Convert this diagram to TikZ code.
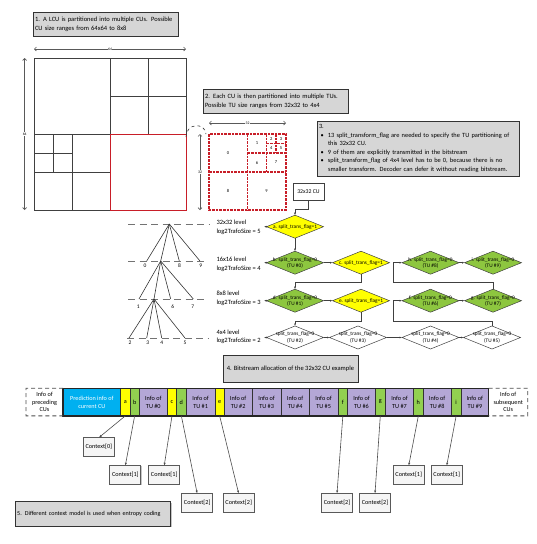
\documentclass[tikz,border=0pt]{standalone}
\usepackage{fontspec}
\setmainfont{Carlito}
\usetikzlibrary{arrows.meta,shapes.geometric,calc,shadows}
\definecolor{cured}{RGB}{200,30,40}
\definecolor{boxgray}{RGB}{214,214,214}
\definecolor{bgreen}{RGB}{146,208,80}
\definecolor{fgreen}{RGB}{141,198,63}
\definecolor{fyellow}{RGB}{255,255,0}
\definecolor{tucyan}{RGB}{0,176,240}
\definecolor{tupurple}{RGB}{180,167,214}
\newcommand\tbul{\makebox[9pt][l]{\hspace{1.5pt}\textbullet}}
\newcommand\tind{\hspace*{9pt}}
\newcommand\flagdia[4]{\node[dia,fill=#2] (#1) at (#3) {}; \node[ftext] at (#1) {#4};}
\begin{document}
\begin{tikzpicture}[x=1pt,y=-1pt,
  every node/.style={font=\fontsize{6.5}{9}\selectfont, inner sep=1pt, outer sep=0pt},
  graybox/.style={draw=black!80, line width=0.8pt, fill=boxgray, align=left, anchor=north west, inner sep=2pt,
    drop shadow={shadow xshift=0.8pt, shadow yshift=-0.8pt, fill=black!45}},
  sq/.style={draw=black!75, line width=1pt},
  redsq/.style={draw=cured, line width=1pt},
  tusq/.style={draw=cured, line width=1.2pt, dash pattern=on 2.6pt off 1pt},
  dim/.style={{Straight Barb[length=2pt,width=4pt]}-{Straight Barb[length=2pt,width=4pt]}, draw=black!65, line width=0.7pt},
  dlab/.style={font=\fontsize{3.8}{4}\selectfont, fill=white, inner sep=0.5pt},
  tulab/.style={font=\fontsize{4.5}{5}\selectfont, inner sep=0pt},
  dia/.style={diamond, draw=black!75, line width=0.5pt, minimum width=57pt, minimum height=23pt, inner sep=0pt},
  ftext/.style={font=\fontsize{5.3}{6.2}\selectfont, align=center, inner sep=0pt},
  arr/.style={-{Latex[length=2.5pt,width=2pt]}, draw=black!75, line width=0.5pt},
  carr/.style={-{Latex[length=3pt,width=2.2pt]}, draw=black!70, line width=0.6pt},
  tline/.style={draw=black!80, line width=0.6pt},
  lvldash/.style={draw=black!55, line width=1pt, dash pattern=on 7pt off 4.5pt},
  lvl/.style={anchor=west, align=left, font=\fontsize{6.5}{8.7}\selectfont},
  tlab/.style={font=\fontsize{5.5}{6}\selectfont, inner sep=0pt},
  cell/.style={draw=black!80, line width=0.5pt, minimum height=27.7pt, inner sep=0.5pt, align=center, anchor=west, font=\fontsize{6.2}{7.8}\selectfont},
  ctx/.style={draw=black!65, line width=0.7pt, fill=black!4, minimum width=31pt, minimum height=18.5pt, inner sep=0.5pt,
    font=\fontsize{6.2}{7}\selectfont, drop shadow={shadow xshift=0.7pt,shadow yshift=-0.7pt,fill=black!45}},
  pdash/.style={draw=black!70, line width=0.8pt, dash pattern=on 4pt off 3pt}
]
\useasboundingbox (0,0) rectangle (537,544);

% ---------- Box 1 and LCU ----------
\node[graybox, text width=141pt, minimum height=24pt] (b1) at (33,12)
  {1. A LCU is partitioned into multiple CUs. Possible\\CU size ranges from 64x64 to 8x8};

\draw[dim] (34,49) -- (186,49);
\node[dlab] (l64h) at (110,49) {64};
\draw[dim] (24.7,58) -- (24.7,210);
\node[dlab] (l64v) at (24.7,134) {64};

\draw[sq] (34,58) rectangle (186,210);
\draw[sq] (110,58) -- (110,210);
\draw[sq] (34,134) -- (186,134);
\draw[sq] (148,58) -- (148,134);
\draw[sq] (110,96) -- (186,96);
\draw[sq] (72,134) -- (72,210);
\draw[sq] (34,172) -- (110,172);
\draw[sq] (53,134) -- (53,172);
\draw[sq] (34,153) -- (72,153);
\draw[redsq] (110,134) rectangle (186,210);

\draw[dashed, draw=black!80, line width=0.6pt] (186,137) .. controls (186,123) and (205,122) .. (206,134);

% ---------- Box 2 and TU split ----------
\node[graybox, text width=141pt, minimum height=24pt] (b2) at (203,89)
  {2. Each CU is then partitioned into multiple TUs.\\Possible TU size ranges from 32x32 to 4x4};

\draw[dim] (209,123) -- (286,123);
\node[dlab] (l32h) at (247.5,123) {32};
\draw[dim] (200,134) -- (200,210);
\node[dlab] (l32v) at (200,172) {32};

\draw[tusq] (209,134) rectangle (286,210);
\draw[tusq] (247.5,134) -- (247.5,210);
\draw[tusq] (209,172) -- (286,172);
\draw[tusq] (247.5,153) -- (286,153);
\draw[tusq] (266.5,134) -- (266.5,172);
\draw[tusq] (266.5,143.5) -- (286,143.5);
\draw[tusq] (276,134) -- (276,153);
\node[tulab] at (228,153) {0};
\node[tulab] at (257,143.5) {1};
\node[tulab] at (271.2,139) {2};
\node[tulab] at (281,139) {3};
\node[tulab] at (271.2,148.3) {4};
\node[tulab] at (281,148.3) {5};
\node[tulab] at (257,162.5) {6};
\node[tulab] at (276,162.5) {7};
\node[tulab] at (228,191) {8};
\node[tulab] at (266.5,191) {9};

% ---------- Box 3 ----------
\node[graybox, text width=198pt, minimum height=55pt, font=\fontsize{6.4}{8.5}\selectfont] (b3) at (317,121)
  {3.\\
  \tbul 13 split\_transform\_flag are needed to specify the TU partitioning of\\
  \tind this 32x32 CU.\\
  \tbul 9 of them are explicitly transmitted in the bitstream\\
  \tbul split\_transform\_flag of 4x4 level has to be 0, because there is no\\
  \tind smaller transform. Decoder can defer it without reading bitstream.};

% ---------- Tree ----------
\draw[lvldash] (128,224) -- (210,224);
\draw[lvldash] (128,261) -- (208,261);
\draw[lvldash] (128,299) -- (208,299);
\draw[lvldash] (127,338) -- (208,338);

\coordinate (t0) at (169.3,224);
\coordinate (n0) at (146.7,261);
\coordinate (n1) at (160.7,261);
\coordinate (n8) at (179.3,261);
\coordinate (n9) at (200,261);
\coordinate (m1) at (139,299);
\coordinate (m2) at (154,299);
\coordinate (m6) at (170.7,299);
\coordinate (m7) at (193.3,299);
\coordinate (k2) at (129,338);
\coordinate (k3) at (146.7,338);
\coordinate (k4) at (161.7,338);
\coordinate (k5) at (185,338);
\foreach \c in {n0,n1,n8,n9} \draw[tline] (t0) -- (\c);
\foreach \c in {m1,m2,m6,m7} \draw[tline] (n1) -- (\c);
\foreach \c in {k2,k3,k4,k5} \draw[tline] (m2) -- (\c);
\node[tlab] at (145,265.5) {0};
\node[tlab] at (179.5,265.5) {8};
\node[tlab] at (200.7,265.5) {9};
\node[tlab] at (138.3,307) {1};
\node[tlab] at (172.7,307) {6};
\node[tlab] at (192.7,307) {7};
\node[tlab] at (130,342.7) {2};
\node[tlab] at (147.7,342.7) {3};
\node[tlab] at (161.7,342.7) {4};
\node[tlab] at (185,342.7) {5};

\node[lvl] (lv5) at (215.5,227) {32x32 level\\log2TrafoSize = 5};
\node[lvl] (lv4) at (215.5,264.5) {16x16 level\\log2TrafoSize = 4};
\node[lvl] (lv3) at (215.5,298) {8x8 level\\log2TrafoSize = 3};
\node[lvl] (lv2) at (215.5,336.7) {4x4 level\\log2TrafoSize = 2};

% ---------- Flowchart ----------
\node[draw=black!75, line width=0.7pt, fill=white, minimum width=31pt, minimum height=17pt, font=\fontsize{5.8}{6}\selectfont,
  drop shadow={shadow xshift=0.7pt,shadow yshift=-0.7pt,fill=black!40}] (cu) at (308.5,191.5) {32x32 CU};

\flagdia{fa}{fyellow}{295,226.7}{a. split\_trans\_flag=1}
\flagdia{fb}{fgreen}{295,262.7}{b. split\_trans\_flag=0\\(TU \#0)}
\flagdia{fc}{fyellow}{361,262.7}{c. split\_trans\_flag=1}
\flagdia{fh}{fgreen}{430.5,262.7}{h. split\_trans\_flag=0\\(TU \#8)}
\flagdia{fi}{fgreen}{493,262.7}{i. split\_trans\_flag=0\\(TU \#9)}
\flagdia{fd}{fgreen}{295,300.7}{d. split\_trans\_flag=0\\(TU \#1)}
\flagdia{fe}{fyellow}{361,300.7}{e. split\_trans\_flag=1}
\flagdia{ff}{fgreen}{430.5,300.7}{f. split\_trans\_flag=0\\(TU \#6)}
\flagdia{fg}{fgreen}{493,300.7}{g. split\_trans\_flag=0\\(TU \#7)}
\flagdia{r2}{white}{295,337.5}{split\_trans\_flag=0\\(TU \#2)}
\flagdia{r3}{white}{358,337.5}{split\_trans\_flag=0\\(TU \#3)}
\flagdia{r4}{white}{430.5,337.5}{split\_trans\_flag=0\\(TU \#4)}
\flagdia{r5}{white}{492,337.5}{split\_trans\_flag=0\\(TU \#5)}

\draw[arr] (cu.south) -- ++(0,9) -| (fa.north);
\draw[arr] (fa.south) -- (fb.north);
\draw[arr] (fb.east) -- (fc.west);
\draw[arr] (fc.south) |- (295,282.7) -- (fd.north);
\draw[arr] (fd.east) -- (fe.west);
\draw[arr] (fe.south) |- (295,321) -- (r2.north);
\draw[arr] (r2.east) -- (r3.west);
\draw[arr] (r3.east) -- (r4.west);
\draw[arr] (r4.east) -- (r5.west);
\draw[arr] (r5.north) -- ++(0,-5) -| (393,300.7) -- (ff.west);
\draw[arr] (ff.east) -- (fg.west);
\draw[arr] (fg.north) -- ++(0,-6.5) -| (393,262.7) -- (fh.west);
\draw[arr] (fh.east) -- (fi.west);
\foreach \d in {fa,fb,fd,r2} \draw[arr] (\d.west) -- ++(-2.5,0);

% ---------- Box 4 ----------
\node[graybox, align=center, minimum width=135pt, minimum height=27pt] (b4) at (223,355)
  {4. Bitstream allocation of the 32x32 CU example};

% ---------- Bitstream ----------
\node[cell, fill=tucyan, text=white, minimum width=57.7pt] (pred) at (63,402) {Prediction info of\\current CU};
\node[cell, fill=fyellow, minimum width=9.3pt] (ca) at (pred.east) {a};
\node[cell, fill=bgreen, minimum width=9.3pt] (cb) at (ca.east) {b};
\node[cell, fill=tupurple, minimum width=28pt] (t0c) at (cb.east) {Info of\\TU \#0};
\node[cell, fill=fyellow, minimum width=9.4pt] (cc) at (t0c.east) {c};
\node[cell, fill=bgreen, minimum width=9.3pt] (cd) at (cc.east) {d};
\node[cell, fill=tupurple, minimum width=29.3pt] (t1c) at (cd.east) {Info of\\TU \#1};
\node[cell, fill=fyellow, minimum width=8.7pt] (ce) at (t1c.east) {e};
\node[cell, fill=tupurple, minimum width=28.3pt] (t2c) at (ce.east) {Info of\\TU \#2};
\node[cell, fill=tupurple, minimum width=28.7pt] (t3c) at (t2c.east) {Info of\\TU \#3};
\node[cell, fill=tupurple, minimum width=28.3pt] (t4c) at (t3c.east) {Info of\\TU \#4};
\node[cell, fill=tupurple, minimum width=28.7pt] (t5c) at (t4c.east) {Info of\\TU \#5};
\node[cell, fill=bgreen, minimum width=9.7pt] (cf) at (t5c.east) {f};
\node[cell, fill=tupurple, minimum width=27.6pt] (t6c) at (cf.east) {Info of\\TU \#6};
\node[cell, fill=bgreen, minimum width=10pt] (cg) at (t6c.east) {g};
\node[cell, fill=tupurple, minimum width=28.4pt] (t7c) at (cg.east) {Info of\\TU \#7};
\node[cell, fill=bgreen, minimum width=9.3pt] (ch) at (t7c.east) {h};
\node[cell, fill=tupurple, minimum width=28.3pt] (t8c) at (ch.east) {Info of\\TU \#8};
\node[cell, fill=bgreen, minimum width=9.7pt] (ci) at (t8c.east) {i};
\node[cell, fill=tupurple, minimum width=27.7pt] (t9c) at (ci.east) {Info of\\TU \#9};
\draw[draw=black!85, line width=1.3pt] (pred.north west) rectangle (t9c.south east);

\draw[pdash] (pred.north west) -- (26,388.15) -- (26,415.85) -- (pred.south west);
\node[font=\fontsize{6.2}{7.8}\selectfont, align=center] (prev) at (44.5,402) {Info of\\preceding\\CUs};
\draw[pdash] (t9c.north east) -- (527.7,388.15) -- (527.7,415.85) -- (t9c.south east);
\node[font=\fontsize{6.2}{7.8}\selectfont, align=center] (next) at (508.2,402) {Info of\\subsequent\\CUs};

% ---------- Contexts ----------
\node[ctx] (x0) at (98.8,446.9) {Context[0]};
\node[ctx] (x1a) at (125.3,475) {Context[1]};
\node[ctx] (x1b) at (164.2,475) {Context[1]};
\node[ctx] (x2a) at (197.2,502.8) {Context[2]};
\node[ctx] (x2b) at (238.7,502.8) {Context[2]};
\node[ctx] (x2c) at (337,502.8) {Context[2]};
\node[ctx] (x2d) at (375,502.8) {Context[2]};
\node[ctx] (x1c) at (408.7,475) {Context[1]};
\node[ctx] (x1d) at (446.7,475) {Context[1]};

\draw[carr] (ca.south) -- (x0.north);
\draw[carr] (cb.south) -- (x1a.north);
\draw[carr] (cc.south) -- (x1b.north);
\draw[carr] (cd.south) -- (x2a.north);
\draw[carr] (ce.south) -- (x2b.north);
\draw[carr] (cf.south) -- (x2c.north);
\draw[carr] (cg.south) -- (x2d.north);
\draw[carr] (ch.south) -- (x1c.north);
\draw[carr] (ci.south) -- (x1d.north);

% ---------- Box 5 ----------
\node[graybox, text width=152pt, minimum height=24.3pt, inner sep=1.5pt, font=\fontsize{6.1}{8}\selectfont] (b5) at (15.7,501.7)
  {5. Different context model is used when entropy coding};
\end{tikzpicture}
\end{document}
